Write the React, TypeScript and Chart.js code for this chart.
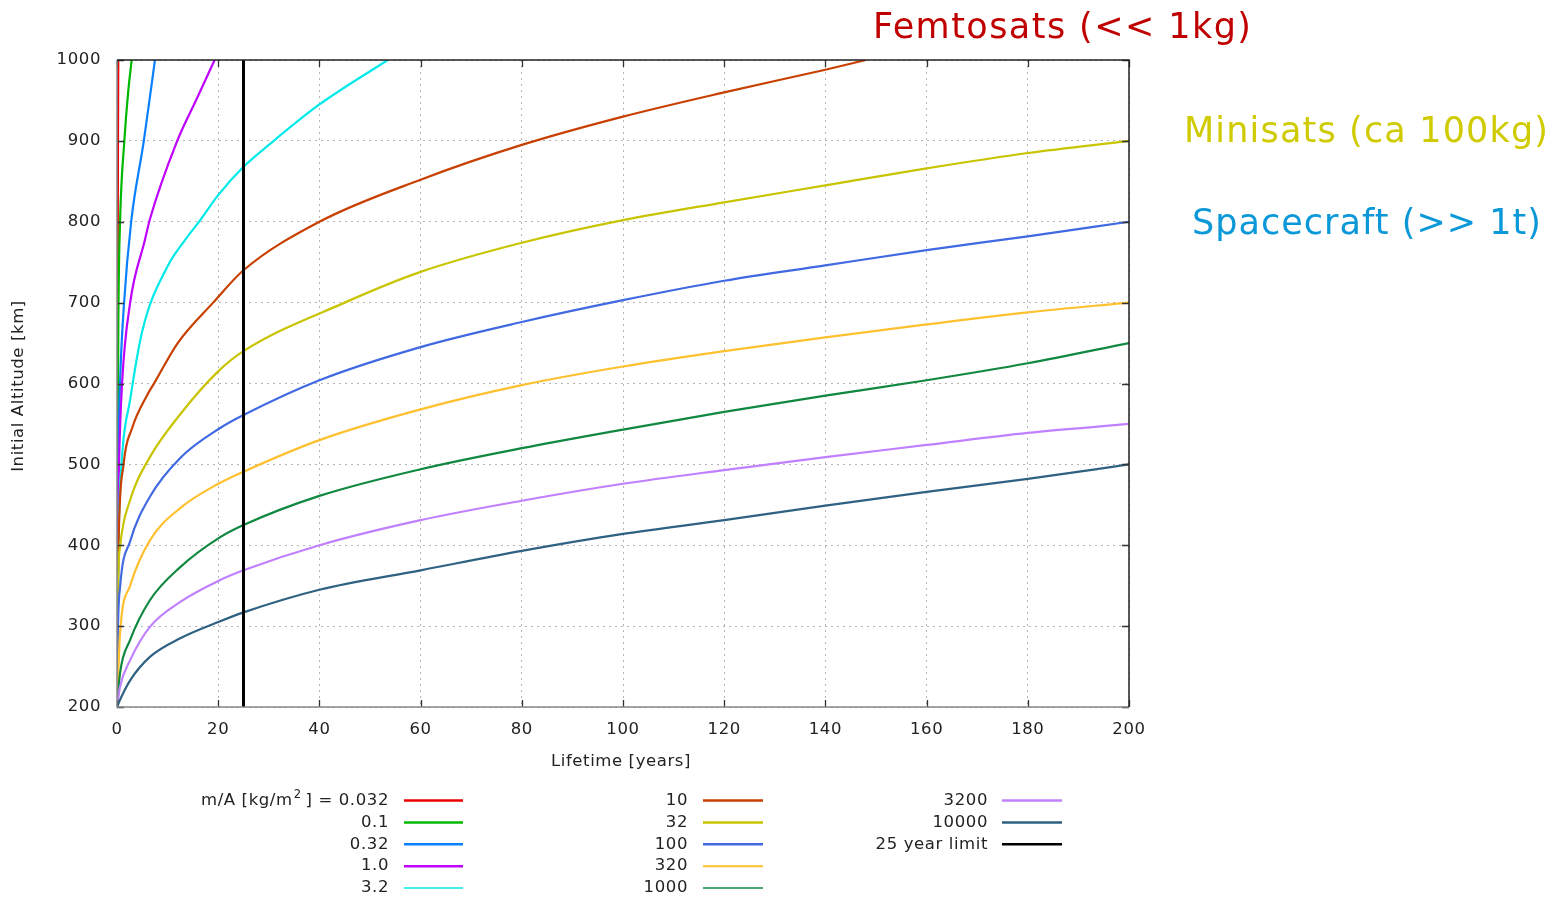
import React, { useEffect, useRef } from 'react';
import { Chart, registerables } from 'chart.js';

Chart.register(...registerables);

const FONT = "'DejaVu Sans', Verdana, sans-serif";
const LETTER_SPACING = '0.6px';

// m/A values (kg/m^2) — series labels
const massLabels = ['0.032', '0.1', '0.32', '1.0', '3.2', '10', '32', '100', '320', '1000', '3200', '10000'];
const seriesColors = ['#ee0000', '#00b800', '#0a80ff', '#c000ff', '#00eaea', '#c84000', '#c8c400', '#4169e1', '#ffc030', '#108840', '#c080ff', '#2f6282'];
const legendWidths = [2.5, 2.5, 2.5, 2.5, 1.5, 2.5, 2.5, 2.5, 2, 1.5, 2.5, 2.5];

// [lifetime in years, initial altitude in km]
const curve0032 = [[0, 200], [0.05, 400], [0.1, 600], [0.15, 800], [0.25, 1000]];
const curve01 = [[0, 200], [0.1, 500], [0.3, 700], [0.6, 800], [1.45, 900], [2.2, 960], [2.9, 1000]];
const curve032 = [[0, 200], [0.1, 400], [0.25, 500], [0.6, 600], [1.4, 700], [2.8, 800], [5.3, 900], [7.5, 1000]];
const curve1 = [[0, 200], [0.15, 400], [0.4, 500], [1, 600], [2.6, 700], [5.5, 777], [6.5, 803], [11.9, 900], [15.6, 950], [19.3, 1000]];
const curve32d = [[0, 200], [0.3, 400], [0.9, 500], [2.6, 580], [5, 665], [10, 745], [13.4, 777], [16.2, 800], [20, 833], [25, 868], [30, 895], [40, 945], [53.5, 1000]];
const curve10 = [[0, 200], [0.1, 300], [0.3, 400], [1.3, 500], [3, 545], [5.9, 585], [7.5, 602], [12, 650], [19, 700], [25, 740], [40, 800], [60, 852], [80, 895], [100, 930], [120, 960], [140, 988], [148, 1000]];
const curve32 = [[0, 200], [0.2, 350], [0.6, 398], [2.6, 456], [6.5, 509], [12.5, 562], [20, 615], [25, 640], [45, 700], [60, 738], [80, 774], [100, 802], [120, 824], [140, 845], [160, 866], [180, 885], [200, 900]];
const curve100 = [[0, 200], [0.2, 300], [0.6, 348], [2.6, 405], [6.5, 460], [12.5, 508], [20.4, 545], [25, 561], [40, 604], [60, 645], [80, 676], [100, 703], [120, 727], [140, 746], [160, 765], [180, 782], [200, 800]];
const curve320 = [[0, 200], [0.6, 291], [2.6, 350], [6.5, 406], [12.5, 446], [20, 476], [25, 491], [40, 530], [60, 568], [80, 598], [100, 621], [120, 640], [140, 657], [160, 673], [180, 688], [200, 700]];
const curve1000 = [[0, 200], [0.6, 242], [2.6, 283], [6.5, 332], [12.5, 373], [20.4, 410], [25, 425], [40, 461], [60, 494], [80, 520], [100, 543], [120, 565], [140, 585], [160, 604], [180, 625], [200, 650]];
const curve3200 = [[0, 200], [0.6, 225], [2.6, 258], [6.5, 299], [12.5, 330], [20.4, 357], [25, 369], [40, 400], [60, 431], [80, 455], [100, 476], [120, 493], [140, 509], [160, 524], [180, 539], [200, 550]];
const curve10000 = [[0, 200], [0.6, 209], [2.6, 233], [6.5, 262], [12.5, 285], [20.4, 306], [25, 317], [40, 345], [60, 369], [80, 393], [100, 414], [120, 431], [140, 449], [160, 466], [180, 482], [200, 500]];

const allCurves = [curve0032, curve01, curve032, curve1, curve32d, curve10, curve32, curve100, curve320, curve1000, curve3200, curve10000];

const limitYears = 25;
const limitLabel = '25 year limit';
const limitAltitudes = [200, 1000];

const xRange = [0, 200];
const xStep = 20;
const yRange = [200, 1000];
const yStep = 100;

const xTitle = 'Lifetime [years]';
const yTitle = 'Initial Altitude [km]';

const annotationTexts = ['Femtosats (<< 1kg)', 'Minisats (ca 100kg)', 'Spacecraft (>> 1t)'];
const annotationColors = ['#c00000', '#cfcb00', '#0a98d8'];

const decorPlugin = {
  id: 'decor',
  beforeDraw(chart: any) {
    (chart.ctx as any).letterSpacing = LETTER_SPACING;
  },
  afterDatasetsDraw(chart: any) {
    const { ctx, chartArea: a, scales } = chart;
    ctx.save();
    ctx.strokeStyle = '#333';
    ctx.lineWidth = 1.3;
    for (let v = xRange[0]; v <= xRange[1]; v += xStep) {
      const px = Math.round(scales.x.getPixelForValue(v)) + 0.5;
      ctx.beginPath();
      ctx.moveTo(px, a.bottom); ctx.lineTo(px, a.bottom - 7);
      ctx.moveTo(px, a.top); ctx.lineTo(px, a.top + 7);
      ctx.stroke();
    }
    for (let v = yRange[0]; v <= yRange[1]; v += yStep) {
      const py = Math.round(scales.y.getPixelForValue(v)) + 0.5;
      ctx.beginPath();
      ctx.moveTo(a.left, py); ctx.lineTo(a.left + 7, py);
      ctx.moveTo(a.right, py); ctx.lineTo(a.right - 7, py);
      ctx.stroke();
    }
    ctx.lineWidth = 1.5;
    ctx.strokeStyle = '#888';
    ctx.beginPath();
    ctx.moveTo(a.left, a.top); ctx.lineTo(a.left, a.bottom); ctx.lineTo(a.right, a.bottom);
    ctx.stroke();
    ctx.strokeStyle = '#222';
    ctx.beginPath();
    ctx.moveTo(a.left, a.top); ctx.lineTo(a.right, a.top); ctx.lineTo(a.right, a.bottom);
    ctx.stroke();
    ctx.restore();
  },
  afterDraw(chart: any) {
    const { ctx, chartArea: a } = chart;
    ctx.save();
    (ctx as any).letterSpacing = LETTER_SPACING;
    ctx.fillStyle = '#222';
    ctx.font = `16.5px ${FONT}`;
    ctx.textBaseline = 'middle';
    ctx.textAlign = 'center';
    ctx.fillText(xTitle, (a.left + a.right) / 2 - 2, 762);
    ctx.save();
    ctx.translate(19, 386);
    ctx.rotate(-Math.PI / 2);
    ctx.fillText(yTitle, 0, 0);
    ctx.restore();

    // legend
    const cols = [
      { right: 389, x1: 404, x2: 463, items: [0, 1, 2, 3, 4] },
      { right: 688, x1: 703, x2: 763, items: [5, 6, 7, 8, 9] },
      { right: 988, x1: 1002, x2: 1062, items: [10, 11, -1] },
    ];
    const LF = `16.5px ${FONT}`;
    const SF = `11.5px ${FONT}`;
    ctx.font = LF;
    ctx.textAlign = 'right';
    cols.forEach((col) => {
      col.items.forEach((idx, r) => {
        const y = 800.5 + r * 21.9;
        const label = idx === -1 ? limitLabel : massLabels[idx];
        ctx.fillStyle = '#222';
        if (idx === 0) {
          const p1 = 'm/A [kg/m';
          const p3 = '] = ' + label;
          ctx.font = LF;
          const w3 = ctx.measureText(p3).width;
          ctx.font = SF;
          const w2 = ctx.measureText('2').width;
          const x3 = col.right - w3;
          ctx.font = LF;
          ctx.fillText(p3, col.right, y);
          ctx.font = SF;
          ctx.fillText('2', x3 - 4, y - 5);
          ctx.font = LF;
          ctx.fillText(p1, x3 - 4 - w2 - 1, y);
        } else {
          ctx.fillText(label, col.right, y);
        }
        ctx.strokeStyle = idx === -1 ? '#000' : seriesColors[idx];
        ctx.lineWidth = idx === -1 ? 2.5 : legendWidths[idx];
        ctx.beginPath();
        ctx.moveTo(col.x1, y); ctx.lineTo(col.x2, y);
        ctx.stroke();
      });
    });

    // annotations
    const ann = [
      { left: 873, right: 1251, base: 38 },
      { left: 1184, right: 1548, base: 142 },
      { left: 1192, right: 1541, base: 234 },
    ];
    ctx.textAlign = 'left';
    ctx.textBaseline = 'alphabetic';
    ann.forEach((p, i) => {
      const text = annotationTexts[i];
      ctx.font = `35px ${FONT}`;
      (ctx as any).letterSpacing = '0px';
      const w = ctx.measureText(text).width;
      const ls = ((p.right - p.left) - w) / (text.length - 1);
      (ctx as any).letterSpacing = `${ls}px`;
      ctx.fillStyle = annotationColors[i];
      ctx.fillText(text, p.left, p.base);
    });
    (ctx as any).letterSpacing = '0px';
    ctx.restore();
  },
};

export default function App() {
  const ref = useRef<HTMLCanvasElement>(null);
  useEffect(() => {
    if (!ref.current) return;
    const n = allCurves.length;
    const datasets: any[] = allCurves.map((c, i) => ({
      label: massLabels[i],
      data: c.map(([x, y]) => ({ x, y })),
      borderColor: seriesColors[i],
      backgroundColor: seriesColors[i],
      borderWidth: 2.2,
      pointRadius: 0,
      fill: false,
      cubicInterpolationMode: 'monotone',
      order: n + 1 - i,
    }));
    datasets.push({
      label: limitLabel,
      data: limitAltitudes.map((y) => ({ x: limitYears, y })),
      borderColor: '#000',
      backgroundColor: '#000',
      borderWidth: 3,
      pointRadius: 0,
      fill: false,
      order: 0,
    });
    const chart = new Chart(ref.current, {
      type: 'line',
      data: { datasets },
      options: {
        animation: false,
        responsive: false,
        devicePixelRatio: 1,
        layout: { padding: { left: 0, top: 60, right: 1552 - 1129, bottom: 0 } },
        plugins: { legend: { display: false }, tooltip: { enabled: false }, title: { display: false } },
        scales: {
          x: {
            type: 'linear',
            min: xRange[0],
            max: xRange[1],
            ticks: { stepSize: xStep, color: '#222', font: { family: FONT, size: 16.5 }, padding: 13, maxRotation: 0, callback: (v: any) => String(v) },
            grid: { color: '#b4b4b4', lineWidth: 1, drawTicks: false },
            border: { display: false, dash: [2, 4] },
            afterFit: (s: any) => { s.height = 898 - 707; },
          },
          y: {
            type: 'linear',
            min: yRange[0],
            max: yRange[1],
            ticks: { stepSize: yStep, color: '#222', font: { family: FONT, size: 16.5 }, padding: 16, callback: (v: any) => String(v) },
            grid: { color: '#b4b4b4', lineWidth: 1, drawTicks: false },
            border: { display: false, dash: [2, 4] },
            afterFit: (s: any) => { s.width = 117; },
          },
        },
      },
      plugins: [decorPlugin],
    });
    return () => chart.destroy();
  }, []);
  return (
    <div style={{ position: 'absolute', left: 0, top: 0, width: 1552, height: 898, background: '#fff' }}>
      <canvas ref={ref} width={1552} height={898} style={{ width: 1552, height: 898, display: 'block' }} />
    </div>
  );
}
